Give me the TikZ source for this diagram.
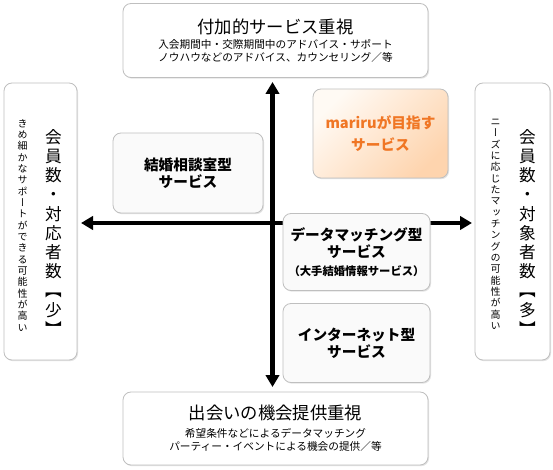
\documentclass[tikz,border=0pt]{standalone}
\usepackage{fontspec}
\setmainfont{Noto Sans CJK JP}
\newfontfamily\tatefont[RawFeature=+vert]{Noto Sans CJK JP}
\usetikzlibrary{arrows.meta,shadows}
\definecolor{mariruOrange}{RGB}{240,118,36}
\definecolor{peachLight}{RGB}{255,250,244}
\definecolor{peachDark}{RGB}{254,212,174}

\begin{document}
\begin{tikzpicture}[x=0.75pt,y=-0.75pt,
  panel/.style={draw=black!25,line width=0.6pt,rounded corners=6pt,fill=#1,
                drop shadow={shadow xshift=0.8pt,shadow yshift=-0.9pt,fill=black!22}},
  panel/.default=white,
  kind/.style={panel=black!2,align=center,font=\bfseries\fontsize{11}{13}\selectfont},
  tatenote/.style={anchor=north,inner sep=0pt,align=center,font=\tatefont\fontsize{7.5}{8.5}\selectfont},
  tatetitle/.style={anchor=north,inner sep=0pt,align=center,font=\tatefont\fontsize{12.5}{14.4}\selectfont},
  axisarrow/.style={line width=3.2pt,{Triangle[length=9pt,width=10pt]}-{Triangle[length=9pt,width=10pt]}}]
  \useasboundingbox (0,0) rectangle (553,470);
  % axes
  \coordinate (up) at (272.5,82);
  \coordinate (down) at (272.5,387);
  \coordinate (west) at (81,223);
  \coordinate (east) at (472,223);
  \draw[axisarrow] (down) -- (up);
  \draw[axisarrow] (west) -- (east);
  % outer panels
  \node[panel,minimum width=228.75pt,minimum height=55.5pt,align=center,font=\fontsize{8}{9.75}\selectfont] (support) at (275.5,40.5)
    {{\fontsize{13}{16}\selectfont 付加的サービス重視}\\[2pt]入会期間中・交際期間中のアドバイス・サポート\\ノウハウなどのアドバイス、カウンセリング／等};
  \node[panel,minimum width=228.75pt,minimum height=54.75pt,align=center,font=\fontsize{8}{10}\selectfont] (chance) at (275.5,428.5)
    {{\fontsize{13}{16}\selectfont 出会いの機会提供重視}\\[3pt]希望条件などによるデータマッチング\\パーティー・イベントによる機会の提供／等};
  \node[panel,minimum width=54.75pt,minimum height=207.75pt] (few) at (40.5,221.5) {};
  \node[tatenote] (fewnote) at (22.5,119)
    {き\\め\\細\\か\\な\\サ\\ポ\\ー\\ト\\が\\で\\き\\る\\可\\能\\性\\が\\高\\い};
  \node[tatetitle] (fewtitle) at (53.5,129)
    {会\\員\\数\\・\\対\\応\\者\\数\\【\\少\\】};
  \node[panel,minimum width=56.25pt,minimum height=207.75pt] (many) at (512.5,221.5) {};
  \node[tatenote] (manynote) at (495.5,119)
    {ニ\\ー\\ズ\\に\\応\\じ\\た\\マ\\ッ\\チ\\ン\\グ\\の\\可\\能\\性\\が\\高\\い};
  \node[tatetitle] (manytitle) at (527.5,129)
    {会\\員\\数\\・\\対\\象\\者\\数\\【\\多\\】};
  % service types
  \node[panel,top color=peachLight,bottom color=peachDark,shading angle=45,minimum width=101.25pt,minimum height=66.75pt,
        align=center,font=\bfseries\fontsize{11}{17}\selectfont,text=mariruOrange] (goal) at (380.5,133.5) {mariruが目指す\\サービス};
  \node[kind,minimum width=112.5pt,minimum height=60pt] (office) at (188,173) {結婚相談室型\\サービス};
  \node[kind,minimum width=110.25pt,minimum height=57.75pt] (matching) at (356.5,252)
    {データマッチング型\\サービス\\{\fontsize{8.5}{10}\selectfont（大手結婚情報サービス）}};
  \node[kind,minimum width=110.25pt,minimum height=59.25pt] (internet) at (356.5,343) {インターネット型\\サービス};
\end{tikzpicture}
\end{document}
